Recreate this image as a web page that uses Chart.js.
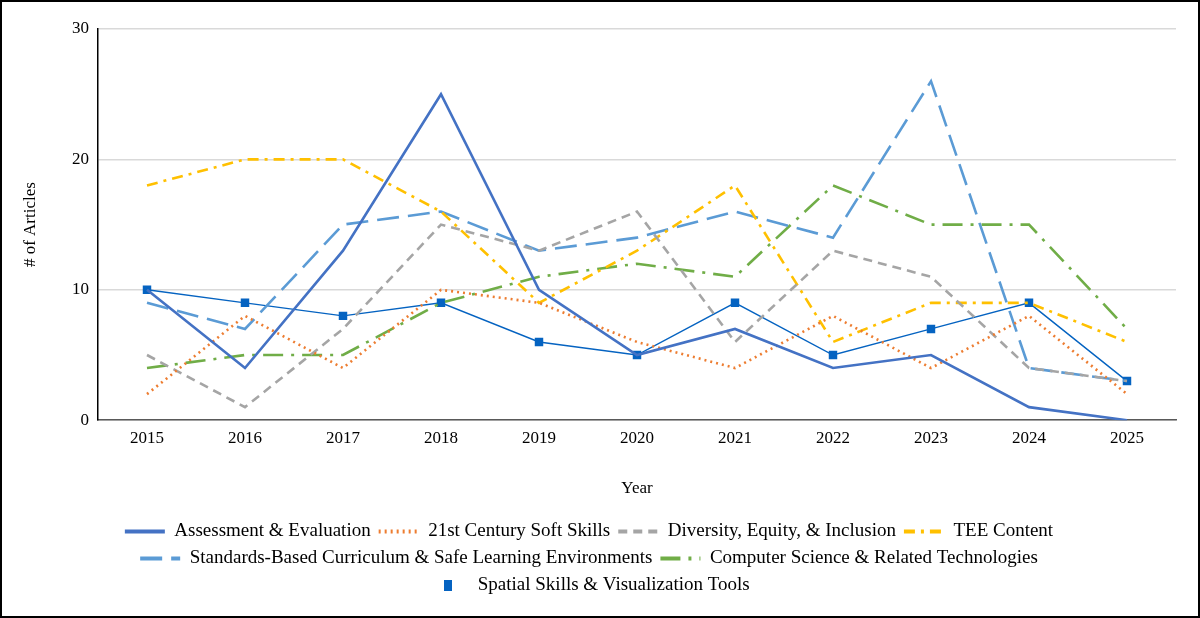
<!DOCTYPE html>
<html>
<head>
<meta charset="utf-8">
<script src="https://cdn.jsdelivr.net/npm/chart.js@4"></script>
<style>
  html, body { margin: 0; padding: 0; background: #fff; }
  #frame { width: 1200px; height: 618px; box-sizing: border-box; border: 2px solid #000; }
  #box { position: relative; width: 1196px; height: 614px; }
</style>
</head>
<body>
<div id="frame"><div id="box"><canvas id="mycanvas"></canvas></div></div>
<script>
var years = ['2015', '2016', '2017', '2018', '2019', '2020', '2021', '2022', '2023', '2024', '2025'];

var assessment = [10, 4, 13, 25, 10, 5, 7, 4, 5, 1, 0];
var softSkills = [2, 8, 4, 10, 9, 6, 4, 8, 4, 8, 2];
var diversity  = [5, 1, 7, 15, 13, 16, 6, 13, 11, 4, 3];
var teeContent = [18, 20, 20, 16, 9, 13, 18, 6, 9, 9, 6];
var standards  = [9, 7, 15, 16, 13, 14, 16, 14, 26, 4, 3];
var compSci    = [4, 5, 5, 9, 11, 12, 11, 18, 15, 15, 7];
var spatial    = [10, 9, 8, 9, 6, 5, 9, 5, 7, 9, 3];

var yTicks = [0, 10, 20, 30];

var serif = "'Liberation Serif', 'Times New Roman', serif";

// little square used as the legend glyph for the marker series
var sq = document.createElement('canvas');
sq.width = 8; sq.height = 11;
var sctx = sq.getContext('2d');
sctx.fillStyle = '#0563C1';
sctx.fillRect(0, 0, 8, 11);

function line(label, data, color, width, dash) {
	return {
		label: label,
		data: data,
		borderColor: color,
		backgroundColor: color,
		borderWidth: width,
		borderDash: dash,
		pointRadius: 0,
		pointHoverRadius: 0,
		tension: 0,
		fill: false
	};
}

var datasets = [
	line('Assessment & Evaluation', assessment, '#4472C4', 2.6, []),
	line('21st Century Soft Skills', softSkills, '#ED7D31', 2.6, [2, 4]),
	line('Diversity, Equity, & Inclusion', diversity, '#A5A5A5', 2.6, [9, 6]),
	line('TEE Content', teeContent, '#FFC000', 2.6, [11, 6, 3, 6]),
	line('Standards-Based Curriculum & Safe Learning Environments', standards, '#5B9BD5', 2.6, [22, 9]),
	line('Computer Science & Related Technologies', compSci, '#70AD47', 2.6, [20, 8, 3, 8])
];
var sp = line('Spatial Skills & Visualization Tools', spatial, '#0563C1', 1.4, []);
sp.pointStyle = 'rect';
sp.pointRadius = 5;
sp.pointBackgroundColor = '#0563C1';
sp.pointBorderColor = '#0563C1';
datasets.push(sp);

var ctx = document.getElementById('mycanvas');

var lineGraph = new Chart(ctx, {
	type: 'line',
	data: { labels: years, datasets: datasets },
	options: {
		responsive: true,
		maintainAspectRatio: false,
		animation: false,
		layout: { padding: { top: 27, right: 22, left: 0, bottom: 11 } },
		plugins: {
			tooltip: { enabled: false },
			legend: {
				position: 'bottom',
				labels: {
					usePointStyle: true,
					pointStyleWidth: 40,
					padding: 8,
					color: '#000',
					font: { family: serif, size: 19 },
					generateLabels: function(chart) {
						var items = Chart.defaults.plugins.legend.labels.generateLabels(chart);
						items.forEach(function(it, i) {
							var ds = chart.data.datasets[i];
							it.pointStyle = (i === 6) ? sq : 'line';
							it.strokeStyle = ds.borderColor;
							it.lineWidth = 4;
							it.lineDash = ds.borderDash;
						});
						return items;
					}
				}
			}
		},
		scales: {
			x: {
				offset: true,
				grid: { display: false, drawTicks: false },
				border: { display: true, color: '#595959', width: 1.5 },
				ticks: { color: '#000', padding: 8, font: { family: serif, size: 17 } },
				title: { display: true, text: 'Year', color: '#000', padding: { top: 22, bottom: 15 }, font: { family: serif, size: 17 } }
			},
			y: {
				min: 0,
				max: 30,
				afterBuildTicks: function(scale) {
					scale.ticks = yTicks.map(function(v) { return { value: v }; });
				},
				afterFit: function(scale) { scale.width = 96; },
				grid: { color: '#D9D9D9', lineWidth: 1.5, drawTicks: false },
				border: { display: true, color: '#000', width: 1.5 },
				ticks: { color: '#000', padding: 9, font: { family: serif, size: 17 } },
				title: { display: true, text: '# of Articles', color: '#000', padding: { top: 18, bottom: 0 }, font: { family: serif, size: 17 } }
			}
		}
	}
});
</script>
</body>
</html>
